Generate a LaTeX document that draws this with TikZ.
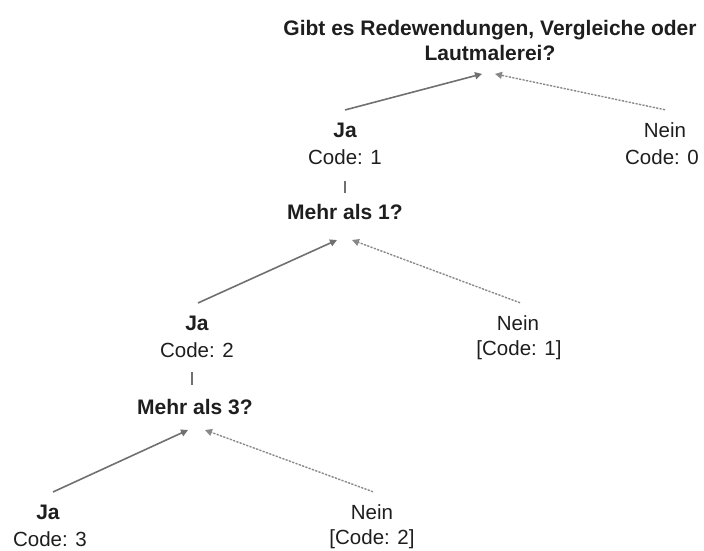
\documentclass[tikz,border=0pt]{standalone}
\usepackage{fontspec}
\setmainfont{Liberation Sans}
\usetikzlibrary{arrows.meta}
\definecolor{txt}{HTML}{1E1E1E}
\definecolor{lin}{HTML}{707070}
\definecolor{dot}{HTML}{888888}
\tikzset{
  lbl/.style={inner sep=0pt, text=txt, font=\fontsize{20.5}{25}\selectfont},
  blbl/.style={lbl, font=\fontsize{21}{25}\selectfont\bfseries},
  tip/.style={-{Triangle[length=7pt,width=7pt]}},
  yes/.style={tip, draw=lin, fill=lin, line width=1.6pt},
  no/.style={tip, draw=dot, fill=dot, line width=1.4pt, dash pattern=on 2pt off 1.5pt},
  stem/.style={draw=lin, line width=1.1pt}
}
\begin{document}
\begin{tikzpicture}[x=1pt,y=-1pt]
\useasboundingbox (0,0) rectangle (704,551);
% level 0
\node[blbl, align=center] (q0) at (490,40) {Gibt es Redewendungen, Vergleiche oder\\Lautmalerei?};
\node[blbl] (ja1) at (345,130) {Ja};
\node[lbl] (c1) at (345,157) {Code: 1};
\node[lbl] (nein1) at (665,130) {Nein};
\node[lbl] (c0) at (662,157) {Code: 0};
% level 1
\node[blbl] (q1) at (345,212) {Mehr als 1?};
\node[blbl] (ja2) at (197,323) {Ja};
\node[lbl] (c2) at (197,350) {Code: 2};
\node[lbl] (nein2) at (518,323) {Nein};
\node[lbl] (c21) at (519,350) {[Code: 1]};
% level 2
\node[blbl] (q2) at (195,407) {Mehr als 3?};
\node[blbl] (ja3) at (48,512) {Ja};
\node[lbl] (c3) at (50,539) {Code: 3};
\node[lbl] (nein3) at (372,512) {Nein};
\node[lbl] (c22) at (372,539) {[Code: 2]};
% connectors
\draw[yes] ([yshift=12.5pt]ja1.north) -- ([xshift=-8pt,yshift=-13.5pt]q0.south);
\draw[no] ([yshift=12.5pt]nein1.north) -- ([xshift=5pt,yshift=-13.5pt]q0.south);
\draw[stem] ([yshift=-16.5pt]c1.south) -- ([yshift=11.5pt]q1.north);
\draw[yes] ([xshift=1pt,yshift=12.5pt]ja2.north) -- ([xshift=-8pt,yshift=-28pt]q1.center);
\draw[no] ([xshift=2pt,yshift=12.5pt]nein2.north) -- ([xshift=7pt,yshift=-28pt]q1.center);
\draw[stem] ([xshift=-5pt,yshift=-14.5pt]c2.south) -- ([xshift=-3pt,yshift=14.5pt]q2.north);
\draw[yes] ([xshift=5pt,yshift=12.5pt]ja3.north) -- ([xshift=-7pt,yshift=-23pt]q2.center);
\draw[no] ([xshift=1pt,yshift=12.5pt]nein3.north) -- ([xshift=10pt,yshift=-23pt]q2.center);
\end{tikzpicture}
\end{document}
